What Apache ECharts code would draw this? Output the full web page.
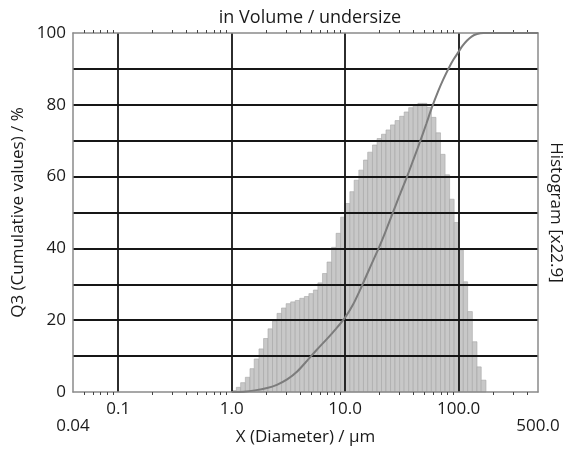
<!DOCTYPE html>
<html>
<head>
<meta charset="utf-8">
<script src="https://cdn.jsdelivr.net/npm/echarts@6/dist/echarts.min.js"></script>
<style>
  html, body { margin: 0; padding: 0; background: #fff; }
  #chart { width: 571px; height: 455px; }
</style>
</head>
<body>
<div id="chart"></div>
<script>
// histogram class edges (µm), 25 classes per decade
const binEdges = [
  1.00, 1.10, 1.20, 1.32, 1.45, 1.58, 1.74, 1.91, 2.09, 2.29, 2.51, 2.75, 3.02, 3.31, 3.63, 3.98, 4.37, 4.79, 5.25, 5.75, 6.31, 6.92, 7.59, 8.32, 9.12,
  10.0, 11.0, 12.0, 13.2, 14.5, 15.8, 17.4, 19.1, 20.9, 22.9, 25.1, 27.5, 30.2, 33.1, 36.3, 39.8, 43.7, 47.9, 52.5, 57.5, 63.1, 69.2, 75.9, 83.2, 91.2,
  100, 110, 120, 132, 145, 158, 174
]
// histogram heights (scaled x22.9, read on the left axis)
const histValues = [
  0.4, 1.3, 2.6, 4.1, 6.5, 9.2, 12.0, 14.9, 17.6, 19.8,
  21.9, 23.4, 24.6, 25.1, 25.5, 26.1, 26.6, 27.4, 28.4, 30.4,
  33.0, 36.2, 40.3, 44.2, 48.7, 52.5, 55.8, 59.0, 61.8, 64.6,
  66.8, 68.8, 70.6, 71.8, 73.0, 74.4, 75.6, 76.8, 78.0, 79.2,
  80.0, 80.4, 80.4, 79.3, 76.5, 72.2, 66.2, 60.5, 53.7, 47.2,
  39.6, 30.7, 22.4, 14.0, 7.0, 3.3
]
// cumulative curve Q3
const q3Sizes = [1.0, 1.27, 1.6, 2.05, 2.5, 3.08, 3.8, 4.67, 5.6, 6.92, 8.3, 10, 11.7, 13.6, 16.3, 19.7, 22.5, 25.9, 30, 35.1, 40, 46, 52, 58, 66, 73, 81.7, 90, 100, 108, 118.6, 130, 145, 165, 200, 500]
const q3Values = [0, 0.1, 0.45, 1.1, 2.0, 3.5, 5.8, 8.9, 11.7, 14.8, 17.6, 20.8, 24.3, 28.6, 34.2, 40.0, 44.4, 49.4, 54.6, 60.0, 64.8, 70.0, 74.8, 79.2, 83.8, 87.0, 90.2, 92.6, 94.8, 96.4, 97.9, 99.0, 99.7, 100, 100, 100]

// axis ticks
const xLabelValues = [0.04, 0.1, 1, 10, 100, 500]
const xLabelTexts = ['0.04', '0.1', '1.0', '10.0', '100.0', '500.0']
const xLabelLow = [true, false, false, false, false, true]
const xMinorTicks = [
  0.05, 0.06, 0.07, 0.08, 0.09,
  0.2, 0.3, 0.4, 0.5, 0.6, 0.7, 0.8, 0.9,
  2, 3, 4, 5, 6, 7, 8, 9,
  20, 30, 40, 50, 60, 70, 80, 90,
  200, 300, 400
]
const yLabelValues = [0, 20, 40, 60, 80, 100]

const textColor = '#1a1a1a'
const fontFamily = '"Open Sans", "Noto Sans", sans-serif'
const frameColor = '#8a8a8a'
const gridColor = '#161616'

const histData = histValues.map((v, i) => [binEdges[i], binEdges[i + 1], v])
const q3Data = q3Sizes.map((x, i) => [x, q3Values[i]])

const chart = echarts.init(document.getElementById('chart'))

const minorAxis = (pos) => ({
  type: 'log',
  position: pos,
  min: 0.04,
  max: 500,
  axisLine: { show: false },
  axisLabel: { show: false },
  splitLine: { show: false },
  axisTick: {
    show: true,
    customValues: xMinorTicks,
    length: 3,
    lineStyle: { color: '#444', width: 1 }
  }
})

const option = {
  animation: false,
  textStyle: { fontFamily: fontFamily },
  title: {
    text: 'in Volume / undersize',
    left: 305,
    textAlign: 'center',
    top: 4,
    textStyle: { color: textColor, fontSize: 18, fontWeight: 'normal', fontFamily: fontFamily }
  },
  grid: { left: 73, top: 33, right: 33, bottom: 63, containLabel: false, outerBoundsMode: 'none' },
  xAxis: [
    {
      type: 'log',
      position: 'bottom',
      min: 0.04,
      max: 500,
      name: 'X (Diameter) / µm',
      nameLocation: 'middle',
      nameGap: 37,
      nameMoveOverlap: false,
      nameTextStyle: { color: textColor, fontSize: 17, fontFamily: fontFamily },
      axisLine: { show: true, lineStyle: { color: frameColor, width: 1.5 } },
      axisTick: { show: false },
      axisLabel: {
        customValues: xLabelValues,
        color: textColor,
        fontSize: 17,
        fontFamily: fontFamily,
        margin: 8.5,
        lineHeight: 17,
        formatter: function (v) {
          let best = 0
          xLabelValues.forEach((t, i) => {
            if (Math.abs(Math.log10(t) - Math.log10(v)) < Math.abs(Math.log10(xLabelValues[best]) - Math.log10(v))) best = i
          })
          return (xLabelLow[best] ? '\n' : '') + xLabelTexts[best]
        }
      },
      splitLine: {
        show: true,
        showMinLine: false,
        showMaxLine: false,
        lineStyle: { color: gridColor, width: 1.8 }
      }
    },
    minorAxis('bottom'),
    Object.assign(minorAxis('top'), {
      axisLine: { show: true, lineStyle: { color: frameColor, width: 1.5 } }
    })
  ],
  yAxis: [
    {
      type: 'value',
      position: 'left',
      min: 0,
      max: 100,
      interval: 10,
      name: 'Q3 (Cumulative values) / %',
      nameLocation: 'middle',
      nameGap: 46,
      nameMoveOverlap: false,
      nameTextStyle: { color: textColor, fontSize: 17, fontFamily: fontFamily },
      axisLine: { show: true, lineStyle: { color: frameColor, width: 1.5 } },
      axisTick: { show: false },
      axisLabel: {
        color: textColor,
        fontSize: 17,
        fontFamily: fontFamily,
        margin: 7,
        formatter: v => (yLabelValues.indexOf(v) >= 0 ? String(v) : '')
      },
      splitLine: {
        show: true,
        showMinLine: false,
        showMaxLine: false,
        lineStyle: { color: gridColor, width: 1.8 }
      }
    },
    {
      type: 'value',
      position: 'right',
      min: 0,
      max: 100,
      name: 'Histogram [x22.9]',
      nameLocation: 'middle',
      nameRotate: -90,
      nameGap: 9,
      nameMoveOverlap: false,
      nameTextStyle: { color: textColor, fontSize: 17, fontFamily: fontFamily },
      axisLine: { show: true, lineStyle: { color: frameColor, width: 1.5 } },
      axisTick: { show: false },
      axisLabel: { show: false },
      splitLine: { show: false }
    }
  ],
  series: [
    {
      name: 'Histogram',
      type: 'custom',
      xAxisIndex: 0,
      yAxisIndex: 0,
      z: -1,
      encode: { x: [0, 1], y: 2 },
      data: histData,
      renderItem: function (params, api) {
        const p0 = api.coord([api.value(0), api.value(2)])
        const p1 = api.coord([api.value(1), 0])
        return {
          type: 'rect',
          shape: { x: p0[0], y: p0[1], width: p1[0] - p0[0], height: p1[1] - p0[1] },
          style: { fill: '#c8c8c8', stroke: '#a6a6a6', lineWidth: 0.6 }
        }
      }
    },
    {
      name: 'Q3',
      type: 'line',
      xAxisIndex: 0,
      yAxisIndex: 0,
      data: q3Data,
      smooth: 0.3,
      showSymbol: false,
      lineStyle: { color: '#7c7c7c', width: 2 }
    }
  ]
}

chart.setOption(option)
</script>
</body>
</html>
